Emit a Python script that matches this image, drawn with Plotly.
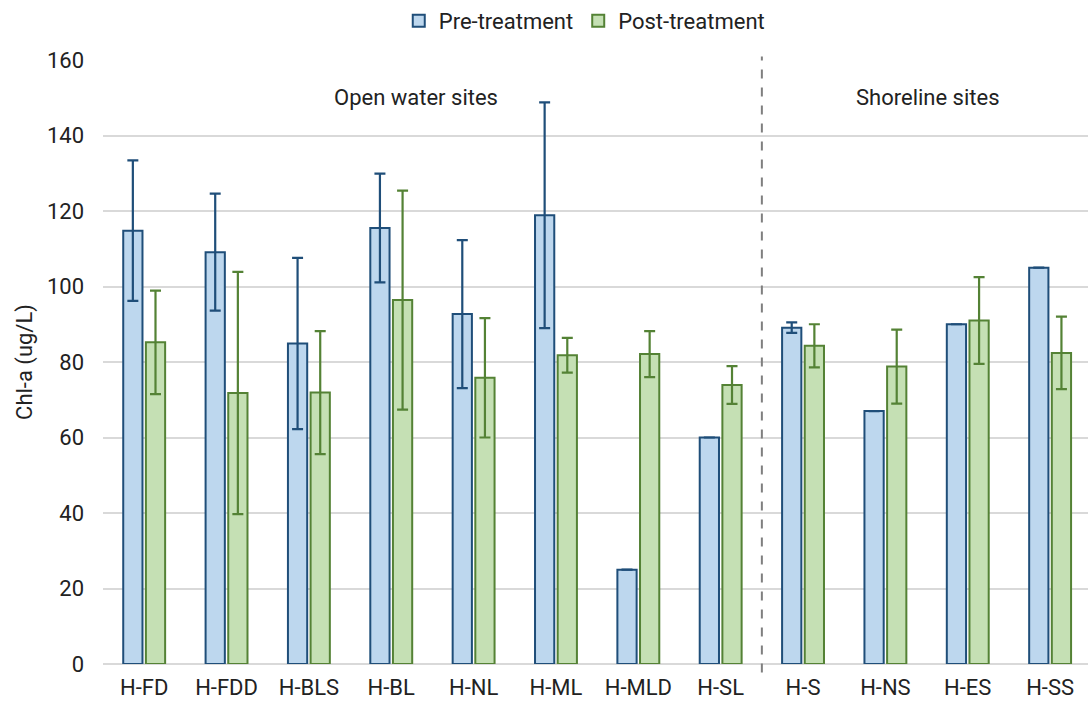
import plotly.graph_objects as go

# Chlorophyll-a by site, before and after treatment
sites = ["H-FD", "H-FDD", "H-BLS", "H-BL", "H-NL", "H-ML", "H-MLD", "H-SL",
         "H-S", "H-NS", "H-ES", "H-SS"]
pre_mean = [114.8, 109.1, 84.9, 115.5, 92.7, 118.9, 25.0, 60.0, 89.1, 67.0, 90.0, 105.0]
pre_err = [18.6, 15.5, 22.7, 14.4, 19.6, 29.9, None, None, 1.4, None, None, None]
post_mean = [85.2, 71.8, 71.9, 96.4, 75.8, 81.8, 82.1, 73.9, 84.3, 78.8, 91.0, 82.4]
post_err = [13.7, 32.1, 16.3, 29.0, 15.8, 4.6, 6.1, 5.0, 5.7, 9.8, 11.5, 9.6]

group_labels = ["Open water sites", "Shoreline sites"]
y_ticks = [0, 20, 40, 60, 80, 100, 120, 140, 160]

FONT = "Roboto"
TEXT = "#222222"
PRE_FILL, PRE_LINE = "#BDD7EE", "#1F4E79"
POST_FILL, POST_LINE = "#C5E0B4", "#548235"

x_range = [-0.5, 11.46]

fig = go.Figure()
fig.add_trace(go.Bar(
    x=sites, y=pre_mean, name="Pre-treatment",
    marker=dict(color=PRE_FILL, line=dict(color=PRE_LINE, width=2)),
    error_y=dict(type="data", array=pre_err, visible=True,
                 color=PRE_LINE, thickness=2.2, width=5.5),
))
fig.add_trace(go.Bar(
    x=sites, y=post_mean, name="Post-treatment",
    marker=dict(color=POST_FILL, line=dict(color=POST_LINE, width=2)),
    error_y=dict(type="data", array=post_err, visible=True,
                 color=POST_LINE, thickness=2.2, width=5.5),
))

# dashed divider between open-water and shoreline sites
divider = 7.5
div_x = (divider - x_range[0]) / (x_range[1] - x_range[0])
fig.add_shape(type="line", xref="paper", yref="paper",
              x0=div_x, x1=div_x, y0=-0.014, y1=1.006,
              line=dict(color="#7F7F7F", width=2, dash="dash"))

fig.add_annotation(x=3.3, y=150, xref="x", yref="y", text=group_labels[0],
                   showarrow=False, font=dict(family=FONT, size=22, color=TEXT))
fig.add_annotation(x=9.52, y=150, xref="x", yref="y", text=group_labels[1],
                   showarrow=False, font=dict(family=FONT, size=22, color=TEXT))

fig.update_layout(
    width=1088, height=711,
    margin=dict(l=103, r=0, t=60, b=47),
    paper_bgcolor="white", plot_bgcolor="white",
    barmode="group", bargap=0.45, bargroupgap=0.15,
    font=dict(family=FONT, size=22, color=TEXT),
    showlegend=True,
    legend=dict(orientation="h", xref="container", yref="container",
                x=0.537, xanchor="center", y=1.0, yanchor="top",
                font=dict(family=FONT, size=22, color=TEXT),
                itemwidth=30, traceorder="normal"),
    xaxis=dict(range=x_range, showgrid=False, showline=False, ticks="",
               ticklabelstandoff=8, tickfont=dict(family=FONT, size=22, color=TEXT)),
    yaxis=dict(range=[0, 160], tickvals=y_ticks, showgrid=True,
               gridcolor="#D9D9D9", gridwidth=1.5, zeroline=True,
               zerolinecolor="#D9D9D9", zerolinewidth=1.5, showline=False,
               ticks="", ticklabelstandoff=18,
               tickfont=dict(family=FONT, size=22, color=TEXT),
               title=dict(text="Chl-a (ug/L)", standoff=8,
                          font=dict(family=FONT, size=22, color=TEXT))),
)

fig.write_html("out.html")
